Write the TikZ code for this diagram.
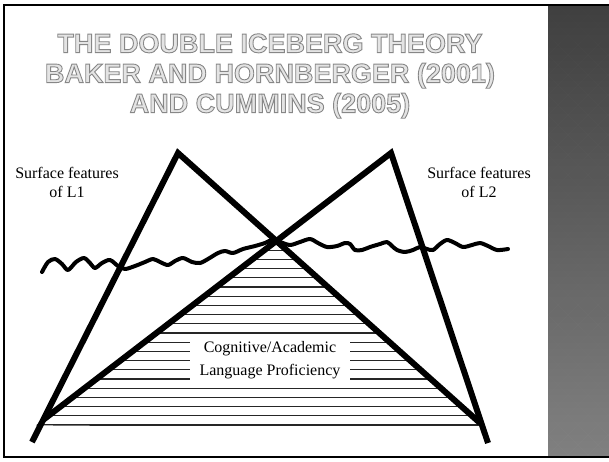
\documentclass[tikz,border=0pt]{standalone}
\usepackage{fontspec}
\setmainfont{Liberation Serif}
\newfontfamily\titlefont{Liberation Sans}
\usetikzlibrary{calc}
\definecolor{titleFill}{HTML}{E4E4E4}
\definecolor{titleEdge}{HTML}{888888}
\definecolor{panelTop}{HTML}{353535}
\definecolor{panelBot}{HTML}{7A7A7A}
% outlined letters: fill, then stroke in grey
\newcommand\hollow[1]{\special{pdf:literal direct 0.53 G 0.9 w 2 Tr}#1\special{pdf:literal direct 0 Tr}}
\tikzset{
  edge/.style={line width=6pt, line join=miter, draw=black},
  hatch/.style={line width=1.2pt, draw=black!85},
  wave/.style={line width=4pt, line cap=round, line join=round, draw=black},
  lbl/.style={align=center, inner sep=0pt, font=\fontsize{16}{19}\selectfont}
}

\begin{document}
\begin{tikzpicture}[x=1pt, y=-1pt,
    ttl/.style={
      align=center, inner sep=0pt, text=titleFill,
      font=\titlefont\bfseries\fontsize{27}{30}\selectfont
    },
    core/.style={
      rectangle, fill=white, align=center, inner sep=0pt,
      minimum width=160pt, minimum height=44pt,
      font=\fontsize{16}{23}\selectfont
    },
    ]
    \useasboundingbox (0,0) rectangle (609,461);

    % side panel
    \shade[top color=panelTop, bottom color=panelBot] (548,5) rectangle (609,457);
    \begin{scope}
      \clip (548,5) rectangle (609,457);
      \foreach \i in {0,...,7}
        \foreach \j in {0,...,46} {
          \pgfmathtruncatemacro\parity{mod(\i+\j,2)}
          \ifnum\parity=0
            \fill[white, opacity=0.05] (548+10*\i,5+10*\j)
              +(0,-10) -- +(10,0) -- +(0,10) -- +(-10,0) -- cycle;
          \fi
        }
    \end{scope}
    \draw[line width=2pt] (4,5) rectangle (612,457);

    % title
    \node[ttl] (title) at (270,76)
      {\hollow{THE DOUBLE ICEBERG THEORY}\\
       \hollow{BAKER AND HORNBERGER (2001)}\\
       \hollow{AND CUMMINS (2005)}};

    % icebergs
    \coordinate (lTop) at (178,153);
    \coordinate (lFoot) at (32,442);
    \coordinate (lToe) at (480,423);
    \coordinate (rTop) at (391,153);
    \coordinate (rToe) at (43,420);
    \coordinate (rFoot) at (488,443);
    \coordinate (cross) at (intersection of lTop--lToe and rTop--rToe);

    % shared part
    \begin{scope}
      \clip (cross) -- ($(cross)!1.03!(lToe)$) -- ($(cross)!1.03!(rToe)$) -- cycle;
      \foreach \k in {0,...,19}
        \draw[hatch] (0,{425-9.2*\k}) -- (609,{425-9.2*\k});
    \end{scope}
    \node[core] (calp) at (270,360) {Cognitive/Academic\\Language Proficiency};

    % water line
    \draw[wave] plot[smooth, tension=0.5] coordinates {
      (42,272) (48,262) (55,259) (62,264) (68,270) (76,262) (84,258)
      (90,263) (95,268) (102,263) (110,260) (118,266) (125,269)
      (135,266) (145,262) (153,259) (160,262) (168,265) (175,261)
      (183,258) (192,262) (200,263) (208,259) (218,253) (225,251)
      (233,253) (243,249) (255,246) (265,243) (272,240) (280,242)
      (290,245) (300,242) (310,239) (318,243) (327,247) (337,246)
      (345,243) (350,244) (355,250) (362,250) (370,247) (380,244)
      (387,242) (392,246) (397,250) (405,252) (413,250) (420,247)
      (427,249) (433,250) (440,244) (447,240) (455,243) (463,247)
      (472,245) (480,243) (488,246) (497,250) (508,249)};

    \draw[edge] (lFoot) -- (lTop) -- (lToe);
    \draw[edge] (rToe) -- (rTop) -- (rFoot);

    \node[lbl] (surfA) at (67,182) {Surface features\\of L1};
    \node[lbl] (surfB) at (479,182) {Surface features\\of L2};

  \end{tikzpicture}
\end{document}
